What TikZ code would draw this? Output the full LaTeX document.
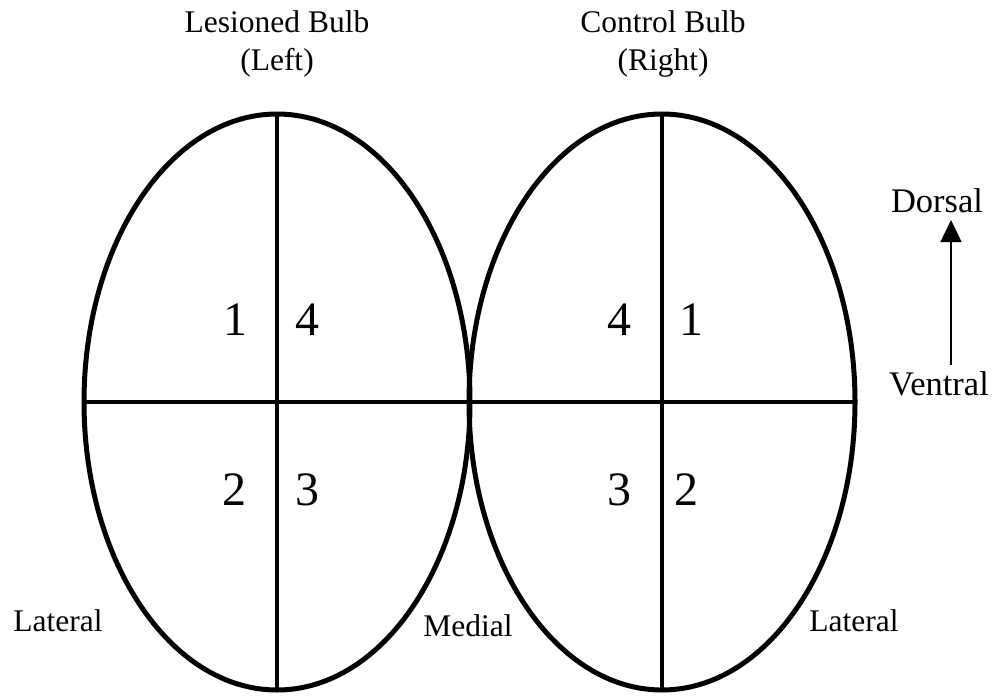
\documentclass[tikz,border=0pt]{standalone}
\usepackage{fontspec}
\setmainfont{Liberation Serif}
\usetikzlibrary{shapes.geometric,arrows.meta}
\begin{document}
\begin{tikzpicture}[x=1pt,y=-1pt,
  bulb/.style={draw=black,line width=5pt,ellipse,minimum width=386pt,minimum height=576pt,inner sep=0pt,outer sep=0pt},
  divider/.style={draw=black,line width=4.5pt},
  lbl/.style={font=\fontsize{31.5}{38}\selectfont,anchor=base,inner sep=0pt},
  axislbl/.style={font=\fontsize{34.5}{40}\selectfont,anchor=base,inner sep=0pt},
  num/.style={font=\fontsize{48}{56}\selectfont,anchor=base,inner sep=0pt},
  axisarrow/.style={draw=black,line width=1.5pt,-{Triangle[width=21pt,length=22pt]}}]
\useasboundingbox (0,0) rectangle (998,698);
\node[bulb] (L) at (277,402) {};
\node[bulb] (R) at (662,402) {};
\draw[divider] (L.north) -- (L.south);
\draw[divider] (R.north) -- (R.south);
\draw[divider] (L.west) -- (R.east);
% titles
\node[lbl] (t1a) at (277,33) {Lesioned Bulb};
\node[lbl] (t1b) at (277,71) {(Left)};
\node[lbl] (t2a) at (663,33) {Control Bulb};
\node[lbl] (t2b) at (663,71) {(Right)};
% quadrant numbers
\node[num] (l1) at (235,335) {1};
\node[num] (l4) at (307,335) {4};
\node[num] (l2) at (234,505) {2};
\node[num] (l3) at (307,505) {3};
\node[num] (r4) at (619,335) {4};
\node[num] (r1) at (691,335) {1};
\node[num] (r3) at (619,505) {3};
\node[num] (r2) at (686,505) {2};
% side labels
\node[lbl] (latL) at (58,631) {Lateral};
\node[lbl] (med) at (468,636) {Medial};
\node[lbl] (latR) at (854,631) {Lateral};
% orientation
\node[axislbl] (dorsal) at (937,212) {Dorsal};
\node[axislbl] (ventral) at (939,395) {Ventral};
\coordinate (aS) at (951,365);
\coordinate (aE) at (951,220);
\draw[axisarrow] (aS) -- (aE);
\end{tikzpicture}
\end{document}
